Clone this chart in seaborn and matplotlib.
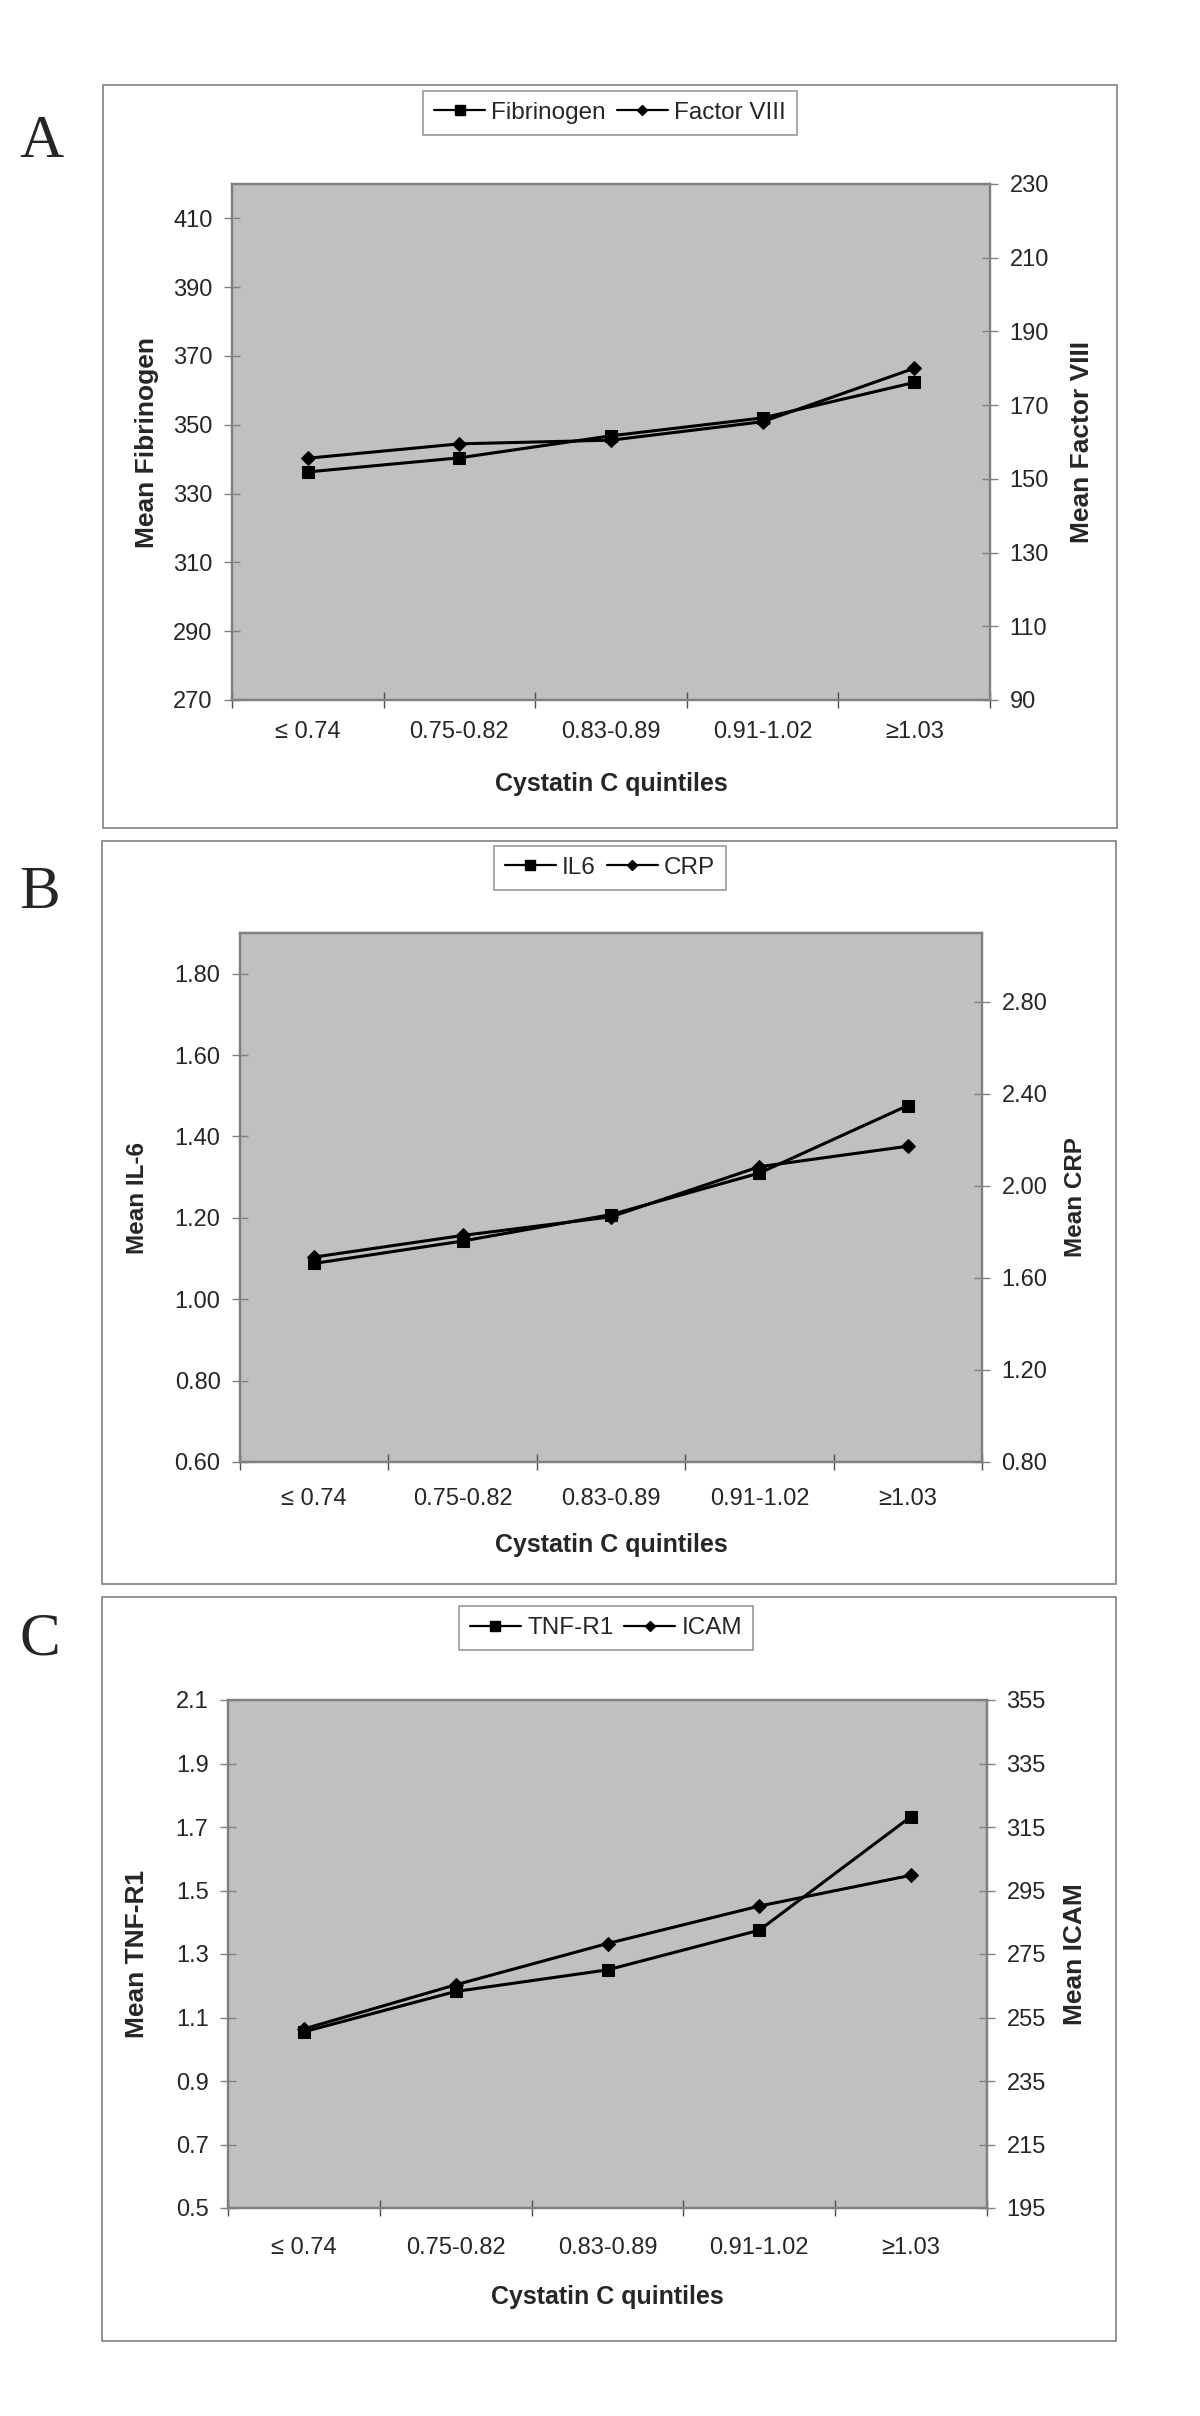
import numpy as np
import pandas as pd
import seaborn as sns
import matplotlib.pyplot as plt
from matplotlib.patches import Rectangle
from matplotlib.lines import Line2D
from matplotlib.ticker import FormatStrFormatter, FixedLocator

# Cystatin C quintile categories (shared by all three panels)
quintiles = ['≤ 0.74', '0.75-0.82', '0.83-0.89', '0.91-1.02', '≥1.03']

# Panel A
fibrinogen = [336.3, 340.4, 346.8, 352.0, 362.3]
factor_viii = [155.6, 159.5, 160.5, 165.5, 180.0]
ticks_fib = [270, 290, 310, 330, 350, 370, 390, 410]
ticks_f8 = [90, 110, 130, 150, 170, 190, 210, 230]

# Panel B
il6 = [1.088, 1.143, 1.208, 1.310, 1.476]
crp = [1.691, 1.785, 1.866, 2.084, 2.173]
ticks_il6 = [0.60, 0.80, 1.00, 1.20, 1.40, 1.60, 1.80]
ticks_crp = [0.80, 1.20, 1.60, 2.00, 2.40, 2.80]

# Panel C
tnf_r1 = [1.055, 1.182, 1.250, 1.375, 1.733]
icam = [251.4, 265.3, 278.3, 290.1, 299.8]
ticks_tnf = [0.5, 0.7, 0.9, 1.1, 1.3, 1.5, 1.7, 1.9, 2.1]
ticks_icam = [195, 215, 235, 255, 275, 295, 315, 335, 355]

sns.set_style("white")
plt.rcParams['font.family'] = ['Liberation Sans', 'DejaVu Sans']

W, H = 1200, 2416
fig = plt.figure(figsize=(W / 100, H / 100), dpi=100)

GRAY = '#808080'


def fx(x):
    return x / W


def fy(y):
    return 1 - y / H


panels = [
    dict(letter='A', letter_xy=(41, 142), frame=(103, 85, 1117, 828),
         plot=(232, 184, 990, 700), legend_c=(610, 113),
         left=fibrinogen, right=factor_viii, names=('Fibrinogen', 'Factor VIII'),
         ylabels=('Mean Fibrinogen', 'Mean Factor VIII'), ylab_x=(147, 1082), ylab_size=19,
         lim_l=(270, 420), ticks_l=ticks_fib, fmt_l='%d',
         lim_r=(90, 230), ticks_r=ticks_f8, fmt_r='%d',
         xlab_top=772, xtick_gap=25),
    dict(letter='B', letter_xy=(40, 893), frame=(102, 841, 1116, 1584),
         plot=(240, 933, 982, 1462), legend_c=(610, 868),
         left=il6, right=crp, names=('IL6', 'CRP'),
         ylabels=('Mean IL-6', 'Mean CRP'), ylab_x=(137, 1075), ylab_size=17.5,
         lim_l=(0.6, 1.9), ticks_l=ticks_il6, fmt_l='%.2f',
         lim_r=(0.8, 3.1), ticks_r=ticks_crp, fmt_r='%.2f',
         xlab_top=1533, xtick_gap=30),
    dict(letter='C', letter_xy=(40, 1640), frame=(102, 1597, 1116, 2341),
         plot=(228, 1700, 987, 2208), legend_c=(606, 1628),
         left=tnf_r1, right=icam, names=('TNF-R1', 'ICAM'),
         ylabels=('Mean TNF-R1', 'Mean ICAM'), ylab_x=(137, 1075), ylab_size=19,
         lim_l=(0.5, 2.1), ticks_l=ticks_tnf, fmt_l='%.1f',
         lim_r=(195, 355), ticks_r=ticks_icam, fmt_r='%d',
         xlab_top=2285, xtick_gap=33),
]

xpos = list(range(len(quintiles)))

for p in panels:
    # chart area border
    x0, y0, x1, y1 = p['frame']
    fig.patches.append(Rectangle((fx(x0), fy(y1)), (x1 - x0) / W, (y1 - y0) / H,
                                 transform=fig.transFigure, fill=False,
                                 edgecolor=GRAY, lw=1.2))

    x0, y0, x1, y1 = p['plot']
    ax = fig.add_axes([fx(x0), fy(y1), (x1 - x0) / W, (y1 - y0) / H])
    ax.set_facecolor('#C0C0C0')
    ax2 = ax.twinx()

    df = pd.DataFrame({'pos': xpos, 'left': p['left'], 'right': p['right']})
    sns.lineplot(data=df, x='pos', y='left', ax=ax, color='black', lw=2.2,
                 marker='s', markersize=9, markeredgecolor='black', sort=False)
    sns.lineplot(data=df, x='pos', y='right', ax=ax2, color='black', lw=2.2,
                 marker='D', markersize=7, markeredgecolor='black', sort=False)

    ax.set_xlim(-0.5, len(quintiles) - 0.5)
    ax.set_ylim(*p['lim_l'])
    ax2.set_ylim(*p['lim_r'])
    ax.set_xlabel('')
    ax.set_ylabel('')
    ax2.set_ylabel('')

    ax.set_xticks(xpos)
    ax.set_xticklabels(quintiles)
    ax.xaxis.set_minor_locator(FixedLocator(np.arange(-0.5, len(quintiles), 1.0)))
    ax.tick_params(axis='x', which='major', length=0, labelsize=17,
                   pad=(p['xtick_gap'] - 4) * 0.72)
    ax.tick_params(axis='x', which='minor', direction='inout', length=11,
                   width=1, color='#505050', bottom=True)

    ax.set_yticks(p['ticks_l'])
    ax.yaxis.set_major_formatter(FormatStrFormatter(p['fmt_l']))
    ax.tick_params(axis='y', which='major', left=True, direction='inout', length=11,
                   width=1, color=GRAY, labelsize=17, pad=8.5)
    ax2.set_yticks(p['ticks_r'])
    ax2.yaxis.set_major_formatter(FormatStrFormatter(p['fmt_r']))
    ax2.tick_params(axis='y', which='major', right=True, direction='inout', length=11,
                    width=1, color=GRAY, labelsize=17, pad=8.5)

    for a in (ax, ax2):
        for s in a.spines.values():
            s.set_color(GRAY)
            s.set_linewidth(1.6)

    # axis titles
    fig.text(fx(p['ylab_x'][0]), fy((y0 + y1) / 2), p['ylabels'][0], rotation=90,
             ha='center', va='center', fontsize=p['ylab_size'], fontweight='bold')
    fig.text(fx(p['ylab_x'][1]), fy((y0 + y1) / 2), p['ylabels'][1], rotation=90,
             ha='center', va='center', fontsize=p['ylab_size'], fontweight='bold')
    fig.text(fx((x0 + x1) / 2), fy(p['xlab_top']), 'Cystatin C quintiles',
             ha='center', va='top', fontsize=18, fontweight='bold')

    # panel letter
    fig.text(fx(p['letter_xy'][0]), fy(p['letter_xy'][1]), p['letter'],
             ha='center', va='center', fontsize=44,
             family=['Liberation Serif', 'DejaVu Serif'])

    handles = [Line2D([], [], color='black', lw=1.6, marker='s', markersize=6.5),
               Line2D([], [], color='black', lw=1.6, marker='D', markersize=5.5)]
    leg = fig.legend(handles, p['names'], loc='center',
                     bbox_to_anchor=(fx(p['legend_c'][0]), fy(p['legend_c'][1])),
                     ncol=2, frameon=True, fancybox=False, edgecolor=GRAY,
                     fontsize=17.5, handlelength=2.1, handletextpad=0.25,
                     columnspacing=0.45, borderpad=0.45, borderaxespad=0)
    leg.get_frame().set_linewidth(1.2)

fig.savefig('out.png', dpi=100, facecolor='white')
